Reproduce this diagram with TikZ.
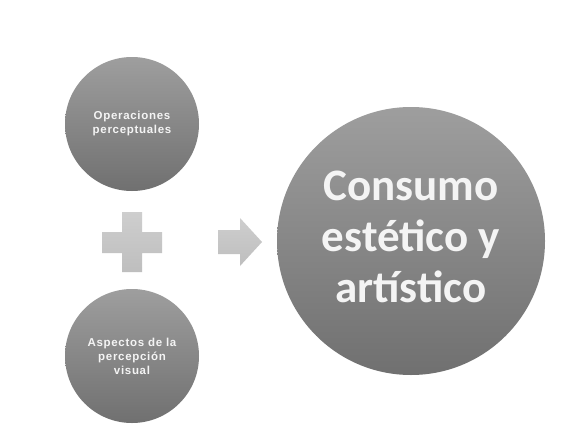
\documentclass[tikz,border=0pt]{standalone}
\usepackage{fontspec}
\setmainfont{Liberation Sans}
\newfontfamily\bigfont{Carlito}
\newfontfamily\smallfont[LetterSpace=6]{Liberation Sans}
\definecolor{circtop}{RGB}{158,158,158}
\definecolor{circbot}{RGB}{112,112,112}
\definecolor{shapetop}{RGB}{206,206,206}
\definecolor{shapebot}{RGB}{190,190,190}
\definecolor{txt}{RGB}{244,244,244}
\tikzset{
  ball/.style={circle, inner sep=0pt, top color=circtop, bottom color=circbot, draw=none, text=txt, align=center},
  smallball/.style={ball, minimum size=134pt, font=\smallfont\bfseries\fontsize{11.5}{14}\selectfont},
  bigball/.style={ball, minimum size=268pt, font=\bigfont\bfseries\fontsize{45}{51}\selectfont},
  symb/.style={top color=shapetop, bottom color=shapebot, draw=none}
}
\begin{document}
\begin{tikzpicture}[x=1pt,y=-1pt]
\useasboundingbox (0,0) rectangle (583,439);
\fill[white] (0,0) rectangle (583,439);
\node[smallball] (ops) at (132,124) {Operaciones\\perceptuales};
\node[smallball] (asp) at (132,356) {Aspectos de la\\percepción\\visual};
\node[bigball] (cons) at (411,241) {\raisebox{-3pt}{\begin{tabular}{@{}c@{}}Consumo\\estético y\\artístico\end{tabular}}};
\coordinate (plus) at (132,242);
\shade[symb] ([shift={(-10,-30)}]plus) -- ++(20,0) -- ++(0,20) -- ++(20,0) -- ++(0,21) -- ++(-20,0) -- ++(0,19) -- ++(-20,0) -- ++(0,-19) -- ++(-20,0) -- ++(0,-21) -- ++(20,0) -- cycle;
\coordinate (arr) at (240,242);
\shade[symb] ([shift={(-22,-12)}]arr) -- ++(22,0) -- ++(0,-12) -- ++(22,24) -- ++(-22,24) -- ++(0,-12) -- ++(-22,0) -- cycle;
\end{tikzpicture}
\end{document}
